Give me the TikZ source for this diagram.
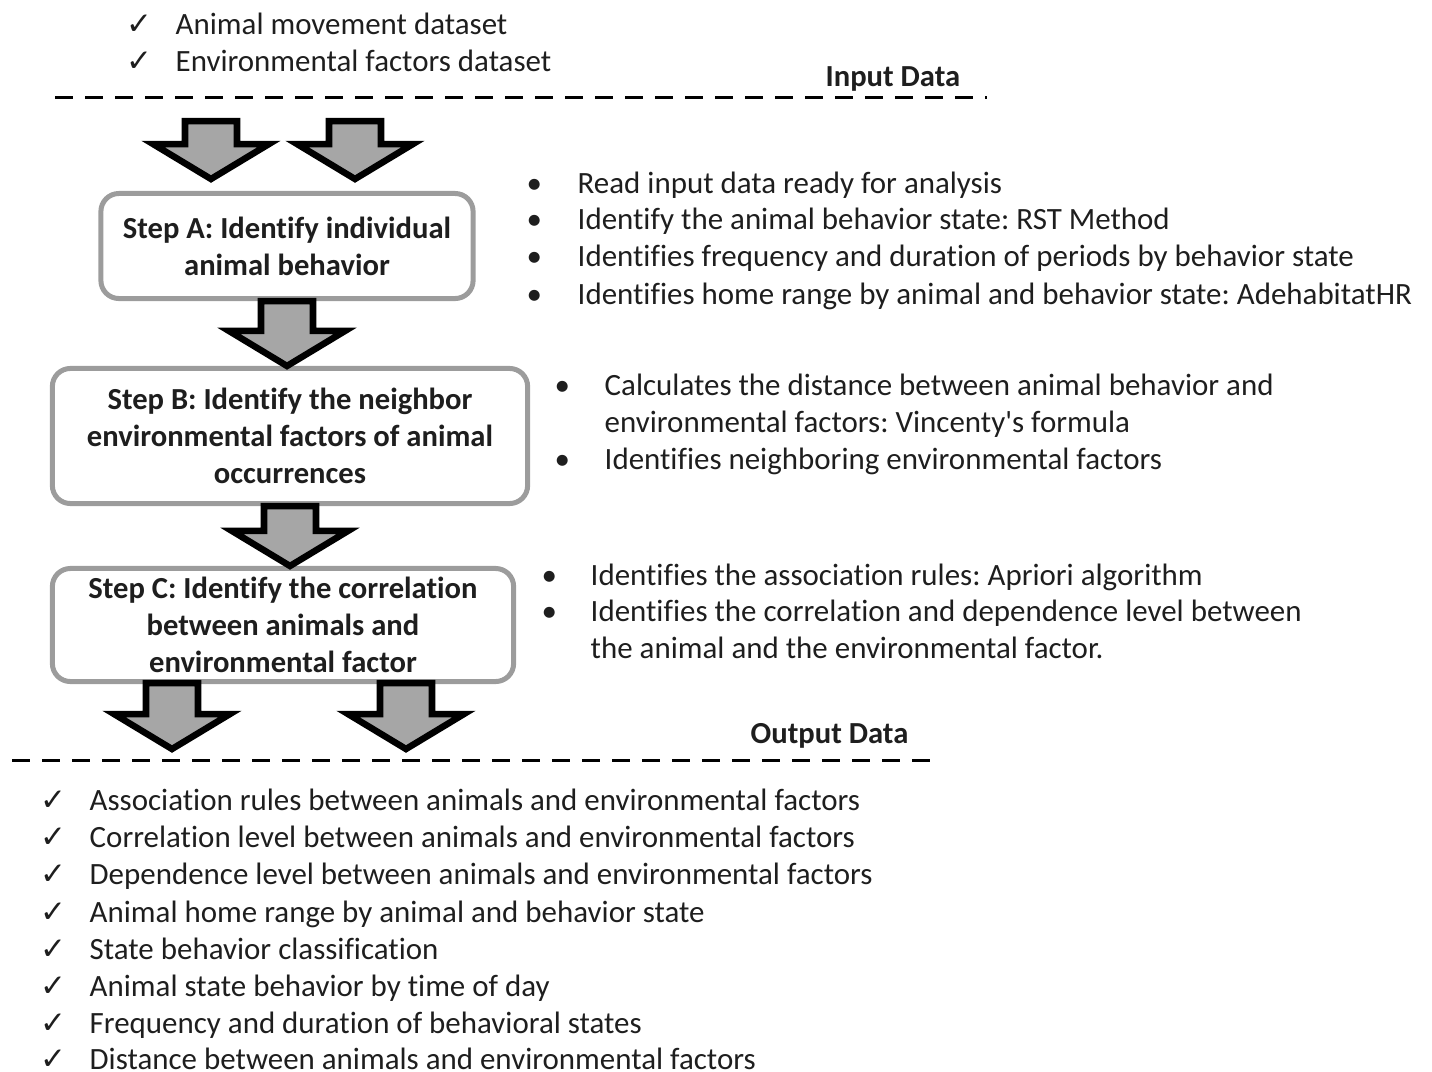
\documentclass[tikz,border=0pt]{standalone}
\usepackage{fontspec}
\setmainfont{Carlito}[Ligatures={TeX,NoCommon}]
\newfontfamily\checkfont{DejaVu Sans}
\usetikzlibrary{calc}
\frenchspacing

\definecolor{boxgray}{HTML}{9C9C9C}
\definecolor{arrowgray}{HTML}{A6A6A6}
\definecolor{inkblack}{HTML}{1E1E1E}

% fat down arrow from a top point to the level of a tip point
\newcommand{\blockarrow}[2]{%
  \coordinate (ba) at (#1 |- #2);
  \draw[bigarrow] ($(#1)+(-26,0)$) -- ($(ba)+(-26,-35)$) -- ($(ba)+(-58,-35)$) -- (ba)
    -- ($(ba)+(58,-35)$) -- ($(ba)+(26,-35)$) -- ($(#1)+(26,0)$) -- cycle;
}

\begin{document}
\begin{tikzpicture}[x=0.01cm, y=-0.01cm,
  every node/.style={text=inkblack, font=\fontsize{8.8}{10.5}\selectfont},
  txt/.style={anchor=west, inner sep=0pt, text height=1.55ex, text depth=0.45ex},
  head/.style={txt, font=\fontsize{8.7}{10.5}\selectfont\bfseries},
  stepbox/.style={draw=boxgray, line width=0.05cm, rounded corners=0.18cm, fill=white,
    align=center, inner sep=0pt, font=\fontsize{8.7}{10.5}\selectfont\bfseries},
  bigarrow/.style={draw=black, fill=arrowgray, line width=0.065cm, line join=miter},
  divider/.style={black, line width=0.03cm, dash pattern=on 0.18cm off 0.12cm}]

  \useasboundingbox (0,0) rectangle (1432,1072);

  % input data
  \node[txt] (ck1) at (126,25) {\checkfont ✓};
  \node[txt] (in1) at (175,25) {Animal movement dataset};
  \node[txt] (ck2) at (126,62) {\checkfont ✓};
  \node[txt] (in2) at (175,62) {Environmental factors dataset};
  \node[head] (inhead) at (825,77) {Input Data};
  \coordinate (dl1) at (55,97);
  \coordinate (dr1) at (987,97);
  \draw[divider] (dl1) -- (dr1);

  % steps
  \node[stepbox, minimum width=3.72cm, minimum height=1.05cm] (stepA) at (287,246)
    {Step A: Identify individual\\animal behavior};
  \node[stepbox, minimum width=4.75cm, minimum height=1.35cm] (stepB) at (290,436)
    {Step B: Identify the neighbor\\environmental factors of animal\\occurrences};
  \node[stepbox, minimum width=4.61cm, minimum height=1.13cm] (stepC) at (283,625)
    {Step C: Identify the correlation\\between animals and\\environmental factor};

  % arrows
  \coordinate (a1) at (211,121);
  \coordinate (a1t) at (211,179);
  \coordinate (a2) at (355,121);
  \coordinate (a2t) at (355,179);
  \blockarrow{a1}{a1t}
  \blockarrow{a2}{a2t}
  \blockarrow{stepA.south}{stepB.north}
  \blockarrow{stepB.south}{stepC.north}
  \coordinate (b1) at (172,683);
  \coordinate (b1t) at (172,749);
  \coordinate (b2) at (406,683);
  \coordinate (b2t) at (406,749);
  \blockarrow{b1}{b1t}
  \blockarrow{b2}{b2t}

  % step A notes
  \node[txt] (pa1) at (526,184) {•};
  \node[txt] (na1) at (577,184) {Read input data ready for analysis};
  \node[txt] (pa2) at (526,220) {•};
  \node[txt] (na2) at (577,220) {Identify the animal behavior state: RST Method};
  \node[txt] (pa3) at (526,257) {•};
  \node[txt] (na3) at (577,257) {Identifies frequency and duration of periods by behavior state};
  \node[txt] (pa4) at (526,295) {•};
  \node[txt] (na4) at (577,295) {Identifies home range by animal and behavior state: AdehabitatHR};

  % step B notes
  \node[txt] (pb1) at (554,386) {•};
  \node[txt] (nb1) at (604,386) {Calculates the distance between animal behavior and};
  \node[txt] (nb1b) at (604,423) {environmental factors: Vincenty\textquotesingle s formula};
  \node[txt] (pb2) at (554,460) {•};
  \node[txt] (nb2) at (604,460) {Identifies neighboring environmental factors};

  % step C notes
  \node[txt] (pc1) at (541,576) {•};
  \node[txt] (nc1) at (590,576) {Identifies the association rules: Apriori algorithm};
  \node[txt] (pc2) at (541,612) {•};
  \node[txt] (nc2) at (590,612) {Identifies the correlation and dependence level between};
  \node[txt] (nc2b) at (590,649) {the animal and the environmental factor.};

  % output data
  \node[head] (outhead) at (750,734) {Output Data};
  \coordinate (dl2) at (12,760);
  \coordinate (dr2) at (935,760);
  \draw[divider] (dl2) -- (dr2);

  \node[txt] (oc1) at (40,801) {\checkfont ✓};
  \node[txt] (out1) at (89,801) {Association rules between animals and environmental factors};
  \node[txt] (oc2) at (40,838) {\checkfont ✓};
  \node[txt] (out2) at (89,838) {Correlation level between animals and environmental factors};
  \node[txt] (oc3) at (40,875) {\checkfont ✓};
  \node[txt] (out3) at (89,875) {Dependence level between animals and environmental factors};
  \node[txt] (oc4) at (40,913) {\checkfont ✓};
  \node[txt] (out4) at (89,913) {Animal home range by animal and behavior state};
  \node[txt] (oc5) at (40,950) {\checkfont ✓};
  \node[txt] (out5) at (89,950) {State behavior classification};
  \node[txt] (oc6) at (40,987) {\checkfont ✓};
  \node[txt] (out6) at (89,987) {Animal state behavior by time of day};
  \node[txt] (oc7) at (40,1024) {\checkfont ✓};
  \node[txt] (out7) at (89,1024) {Frequency and duration of behavioral states};
  \node[txt] (oc8) at (40,1060) {\checkfont ✓};
  \node[txt] (out8) at (89,1060) {Distance between animals and environmental factors};
\end{tikzpicture}
\end{document}
